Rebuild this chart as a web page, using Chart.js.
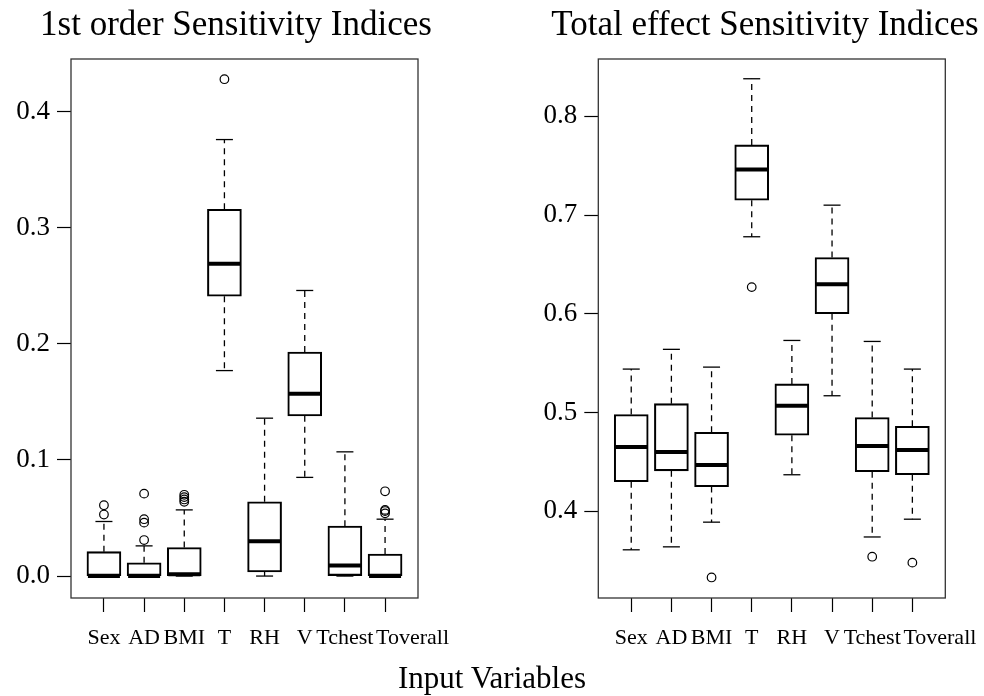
<!DOCTYPE html>
<html>
<head>
<meta charset="utf-8">
<script src="https://cdn.jsdelivr.net/npm/chart.js@4.4.1/dist/chart.umd.min.js"></script>
<style>
    body { margin: 0; background: #fff; }
    #wrap { position: relative; width: 984px; height: 696px; background: #fff; overflow: hidden; }
    canvas { position: absolute; top: 0; }
    #c1 { left: 0; }
    #c2 { left: 492px; }
    .title {
        position: absolute; top: 6px; white-space: nowrap; transform: translateX(-50%);
        font: 35px/35px 'Liberation Serif', serif; color: #000;
    }
    #t1 { left: 236px; }
    #t2 { left: 765px; }
    #xtitle {
        position: absolute; left: 0; top: 662px; width: 984px;
        text-align: center; font: 31px/31px 'Liberation Serif', serif; color: #000;
    }
</style>
</head>
<body>
<div id="wrap">
    <canvas id="c1" width="492" height="696"></canvas>
    <canvas id="c2" width="492" height="696"></canvas>
    <div class="title" id="t1">1st order Sensitivity Indices</div>
    <div class="title" id="t2">Total effect Sensitivity Indices</div>
    <div id="xtitle">Input Variables</div>
</div>
<script>
// Data
const categories = ['Sex', 'AD', 'BMI', 'T', 'RH', 'V', 'Tchest', 'Toverall'];

// 1st order indices
const firstMin    = [0, 0, 0, 0.177, 0, 0.085, 0, 0];
const firstQ1     = [0, 0, 0, 0.241, 0.0035, 0.138, 0, 0];
const firstMedian = [0, 0, 0.0015, 0.269, 0.030, 0.157, 0.009, 0];
const firstQ3     = [0.021, 0.0115, 0.0245, 0.316, 0.064, 0.193, 0.043, 0.019];
const firstMax    = [0.047, 0.026, 0.057, 0.376, 0.136, 0.246, 0.107, 0.049];
const firstOutliers = [
    [0.053, 0.061],
    [0.031, 0.046, 0.049, 0.071],
    [0.064, 0.066, 0.068, 0.070],
    [0.428],
    [],
    [],
    [],
    [0.054, 0.056, 0.057, 0.073]
];
const firstTicks = [0, 0.1, 0.2, 0.3, 0.4];

// Total effect indices
const totalMin    = [0.361, 0.364, 0.389, 0.678, 0.437, 0.517, 0.374, 0.392];
const totalQ1     = [0.430, 0.441, 0.425, 0.715, 0.477, 0.600, 0.440, 0.437];
const totalMedian = [0.465, 0.460, 0.447, 0.746, 0.507, 0.630, 0.466, 0.462];
const totalQ3     = [0.498, 0.509, 0.480, 0.771, 0.529, 0.657, 0.495, 0.486];
const totalMax    = [0.544, 0.564, 0.546, 0.838, 0.573, 0.710, 0.572, 0.544];
const totalOutliers = [[], [], [0.333], [0.627], [], [], [0.354], [0.348]];
const totalTicks = [0.4, 0.5, 0.6, 0.7, 0.8];

const FONT = "'Liberation Serif', 'Times New Roman', serif";

// Whiskers, caps and medians drawn on top of the floating bars
const boxParts = {
    id: 'boxParts',
    afterDatasetsDraw(chart, args, opts) {
        const { ctx, scales: { x, y } } = chart;
        const bars = chart.getDatasetMeta(0).data;
        const line = (x1, y1, x2, y2) => {
            ctx.beginPath();
            ctx.moveTo(x1, y1);
            ctx.lineTo(x2, y2);
            ctx.stroke();
        };
        ctx.save();
        ctx.strokeStyle = '#000';
        opts.median.forEach((m, i) => {
            const cx = x.getPixelForValue(i + 1);
            const half = bars[i].width / 2;
            const yMin = y.getPixelForValue(opts.min[i]);
            const yMax = y.getPixelForValue(opts.max[i]);
            const yQ1 = y.getPixelForValue(opts.q1[i]);
            const yQ3 = y.getPixelForValue(opts.q3[i]);

            ctx.lineWidth = 1.3;
            ctx.setLineDash([6, 5]);
            line(cx, yQ3, cx, yMax);
            line(cx, yQ1, cx, yMin);
            ctx.setLineDash([]);
            line(cx - half / 2, yMax, cx + half / 2, yMax);
            line(cx - half / 2, yMin, cx + half / 2, yMin);

            ctx.lineWidth = 4;
            const ym = y.getPixelForValue(m);
            line(cx - half + 1, ym, cx + half - 1, ym);
        });
        ctx.restore();
    }
};

// Box around the plotting region
const frame = {
    id: 'frame',
    afterDraw(chart) {
        const { ctx, chartArea: a } = chart;
        ctx.save();
        ctx.strokeStyle = '#333';
        ctx.lineWidth = 1.3;
        ctx.strokeRect(a.left, a.top, a.right - a.left, a.bottom - a.top);
        ctx.restore();
    }
};

function makePanel(id, cfg) {
    const boxes = cfg.q1.map((q, i) => ({ x: i + 1, y: [q, cfg.q3[i]] }));
    const outliers = [];
    cfg.outliers.forEach((list, i) => list.forEach(v => outliers.push({ x: i + 1, y: v })));

    return new Chart(document.getElementById(id), {
        type: 'bar',
        data: {
            datasets: [
                {
                    data: boxes,
                    backgroundColor: 'rgba(0,0,0,0)',
                    borderColor: '#000',
                    borderWidth: 1.4,
                    borderSkipped: false,
                    barThickness: 34
                },
                {
                    type: 'scatter',
                    data: outliers,
                    pointRadius: 4.3,
                    pointBorderWidth: 1.2,
                    pointBorderColor: '#000',
                    pointBackgroundColor: 'rgba(0,0,0,0)'
                }
            ]
        },
        options: {
            responsive: false,
            animation: false,
            devicePixelRatio: 1,
            layout: { padding: { left: 0, right: cfg.padRight, top: 59, bottom: 0 } },
            plugins: {
                legend: { display: false },
                tooltip: { enabled: false },
                title: { display: false },
                boxParts: cfg
            },
            scales: {
                x: {
                    type: 'linear',
                    min: 0.18,
                    max: 8.82,
                    offset: false,
                    afterFit: s => { s.height = 98; s.paddingLeft = 0; s.paddingRight = 0; },
                    afterBuildTicks: s => { s.ticks = categories.map((c, i) => ({ value: i + 1 })); },
                    grid: { offset: false, drawOnChartArea: false, color: '#000', tickLength: 14, tickWidth: 1.2 },
                    border: { display: false },
                    ticks: {
                        autoSkip: false,
                        maxRotation: 0,
                        padding: 13,
                        color: '#000',
                        font: { family: FONT, size: 22 },
                        // last label sits to the right of its tick in the original
                        callback: v => (v === 8 ? ' '.repeat(10) : '') + categories[Math.round(v) - 1]
                    }
                },
                y: {
                    min: cfg.yMin,
                    max: cfg.yMax,
                    afterFit: s => { s.width = cfg.axisWidth; s.paddingTop = 0; s.paddingBottom = 0; },
                    afterBuildTicks: s => { s.ticks = cfg.ticks.map(v => ({ value: v })); },
                    grid: { drawOnChartArea: false, color: '#000', tickLength: 14, tickWidth: 1.2 },
                    border: { display: false },
                    ticks: {
                        padding: 7,
                        color: '#000',
                        font: { family: FONT, size: 27 },
                        callback: v => v.toFixed(1)
                    }
                }
            }
        },
        plugins: [boxParts, frame]
    });
}

window.addEventListener('DOMContentLoaded', () => {
    makePanel('c1', {
        min: firstMin, q1: firstQ1, median: firstMedian, q3: firstQ3, max: firstMax,
        outliers: firstOutliers, ticks: firstTicks,
        yMin: -0.0189, yMax: 0.4454,
        axisWidth: 71, padRight: 74
    });
    makePanel('c2', {
        min: totalMin, q1: totalQ1, median: totalMedian, q3: totalQ3, max: totalMax,
        outliers: totalOutliers, ticks: totalTicks,
        yMin: 0.3122, yMax: 0.858,
        axisWidth: 106.3, padRight: 38.7
    });
});
</script>
</body>
</html>
